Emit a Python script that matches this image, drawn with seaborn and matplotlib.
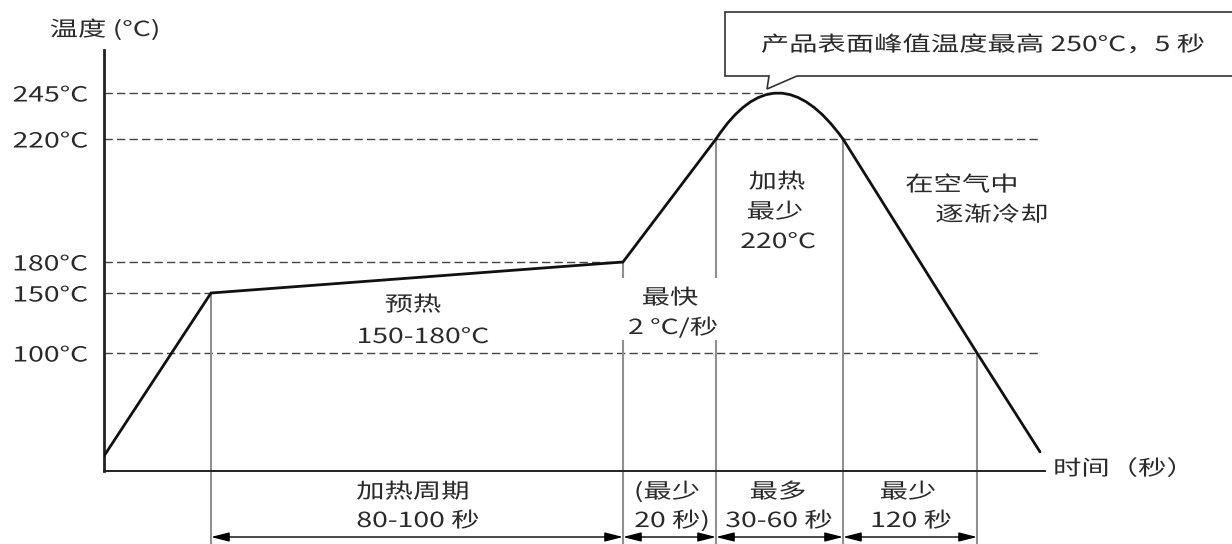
import numpy as np
import pandas as pd
import matplotlib
matplotlib.use("Agg")
import matplotlib.pyplot as plt
import seaborn as sns
from matplotlib import patheffects
from matplotlib.transforms import Affine2D
from matplotlib.path import Path
from matplotlib.patches import PathPatch, Polygon

# ---------------- data ----------------
TEMP_LEVELS = [245, 220, 180, 150, 100]
TEMP_LABELS = ["245°C", "220°C", "180°C", "150°C", "100°C"]

# reflow profile (time in s, temperature in °C)
RAMP_TIME = [0, 40, 130, 150]
RAMP_TEMP = [25, 150, 180, 220]
PEAK_TIME = 172
PEAK_TEMP = 245
COOL_TIME = [195, 315, 345]
COOL_TEMP = [220, 100, 28]

# phase boundaries (time, temperature where the guide line starts)
PHASE_TIME = [40, 130, 150, 195, 315]
PHASE_TEMP = [150, 180, 220, 220, 100]

BOTTOM_TOP = ["加热周期", "(最少", "最多", "最少"]
BOTTOM_BOT = ["80-100 秒", "20 秒)", "30-60 秒", "120 秒"]

# ---------------- schematic (non-linear) axis layout ----------------
W, H = 1232, 544
X_KNOT_T = [0, 40, 130, 150, 195, 315, 345]
X_KNOT_PX = [104, 211, 623, 716, 843, 977, 1040]
Y_KNOT_T = [0, 25, 100, 150, 180, 220, 245]
Y_KNOT_PX = [471, 456, 353, 293, 262, 139, 93]
AX_L, AX_R, AX_T, AX_B = 104, 1045, 50, 471
Y_H = [AX_B - p for p in Y_KNOT_PX]


def lin_interp(v, xs, ys):
    v = np.asarray(v, dtype=float)
    shp = v.shape
    v = np.atleast_1d(v)
    xs = np.asarray(xs, float)
    ys = np.asarray(ys, float)
    out = np.interp(v, xs, ys)
    lo = v < xs[0]
    hi = v > xs[-1]
    out[lo] = ys[0] + (v[lo] - xs[0]) * (ys[1] - ys[0]) / (xs[1] - xs[0])
    out[hi] = ys[-1] + (v[hi] - xs[-1]) * (ys[-1] - ys[-2]) / (xs[-1] - xs[-2])
    return out.reshape(shp)


fx = lambda t: lin_interp(t, X_KNOT_T, X_KNOT_PX)
fx_inv = lambda p: lin_interp(p, X_KNOT_PX, X_KNOT_T)
fy = lambda T: lin_interp(T, Y_KNOT_T, Y_H)
fy_inv = lambda h: lin_interp(h, Y_H, Y_KNOT_T)

# ---------------- style ----------------
sns.set_style("white")
plt.rcParams["font.family"] = ["Noto Sans CJK SC", "DejaVu Sans"]
plt.rcParams["axes.unicode_minus"] = False

FS = 15
SX = 1.36
TXT = "#2a2a2a"
CURVE = "#111111"
GUIDE = "#909090"
DASH = "#444444"


class HStretch(patheffects.AbstractPathEffect):
    """Widen glyphs horizontally around a fixed pixel x."""

    def __init__(self, sx, cx):
        super().__init__()
        self.sx = sx
        self.cx = cx

    def draw_path(self, renderer, gc, tpath, affine, rgbFace=None):
        st = Affine2D().translate(-self.cx, 0).scale(self.sx, 1).translate(self.cx, 0)
        renderer.draw_path(gc, tpath, affine + st, rgbFace)


fig = plt.figure(figsize=(W / 100, H / 100), dpi=100)
fig.patch.set_facecolor("white")
ax = fig.add_axes([AX_L / W, (H - AX_B) / H, (AX_R - AX_L) / W, (AX_B - AX_T) / H])
ax.set_facecolor("none")
ax.set_xscale("function", functions=(fx, fx_inv))
ax.set_yscale("function", functions=(fy, fy_inv))
ax.set_xlim(0, float(fx_inv(AX_R)))
ax.set_ylim(0, float(fy_inv(AX_B - AX_T)))

for s in ["top", "right"]:
    ax.spines[s].set_visible(False)
ax.spines["left"].set_linewidth(2.0)
ax.spines["left"].set_color("#222222")
ax.spines["bottom"].set_linewidth(1.4)
ax.spines["bottom"].set_color("#222222")

ax.set_xticks([])
ax.set_yticks(TEMP_LEVELS)
ax.set_yticklabels(TEMP_LABELS)
ax.tick_params(axis="y", length=0, pad=11.5, labelsize=FS, labelcolor=TXT)
for lbl in ax.get_yticklabels():
    lbl.set_fontweight("medium")
    lbl.set_path_effects([HStretch(SX, AX_L - 16)])

# dashed reference levels
end_t = COOL_TIME[-1]
dash_end = [PEAK_TIME, end_t, RAMP_TIME[2], RAMP_TIME[1], end_t]
ax.hlines(TEMP_LEVELS, 0, dash_end, colors=DASH, linestyles=(0, (6, 3)), lw=1.0, zorder=2)

# guide lines (with gap around the "最快" text)
bottom_T = float(fy_inv(AX_B - H))
gap_hi = float(fy_inv(AX_B - 278))
gap_lo = float(fy_inv(AX_B - 340))
for t, top in zip(PHASE_TIME, PHASE_TEMP):
    if t in (130, 150):
        ax.vlines(t, gap_hi, top, colors=GUIDE, lw=1.5, clip_on=False, zorder=2)
        ax.vlines(t, bottom_T, gap_lo, colors=GUIDE, lw=1.5, clip_on=False, zorder=2)
    else:
        ax.vlines(t, bottom_T, top, colors=GUIDE, lw=1.5, clip_on=False, zorder=2)

# profile curve
df = pd.DataFrame({
    "time": RAMP_TIME + COOL_TIME,
    "temp": RAMP_TEMP + COOL_TEMP,
    "seg": ["ramp"] * len(RAMP_TIME) + ["cool"] * len(COOL_TIME),
})
sns.lineplot(data=df, x="time", y="temp", units="seg", estimator=None, sort=False,
             color=CURVE, lw=2.0, ax=ax, zorder=4, legend=False)
for l in ax.lines:
    l.set_solid_capstyle("round")
    l.set_solid_joinstyle("miter")
ax.set_xlabel("")
ax.set_ylabel("")
t_a, t_b = RAMP_TIME[-1], COOL_TIME[0]
ctrl = (2 * PEAK_TIME - (t_a + t_b) / 2, 2 * PEAK_TEMP - RAMP_TEMP[-1])
dome = Path([(t_a, RAMP_TEMP[-1]), ctrl, (t_b, COOL_TEMP[0])],
            [Path.MOVETO, Path.CURVE3, Path.CURVE3])
ax.add_patch(PathPatch(dome, fill=False, ec=CURVE, lw=2.0, zorder=4, capstyle="round"))

# dimension arrows below the axis
for t0, t1 in zip(PHASE_TIME[:-1], PHASE_TIME[1:]):
    ax.annotate("", xy=(t1, H - 537), xytext=(t0, H - 537),
                xycoords=("data", "figure pixels"), textcoords=("data", "figure pixels"),
                arrowprops=dict(arrowstyle="<|-|>,head_length=1.1,head_width=0.28",
                                color="black", lw=1.0, shrinkA=0, shrinkB=0,
                                mutation_scale=10),
                annotation_clip=False)


def put(x, y, s, ha="center", size=FS):
    fig.text(x / W, 1 - y / H, s, ha=ha, va="center", fontsize=size, color=TXT,
             fontweight="medium", path_effects=[HStretch(SX, x)])


# callout bubble
bx = np.array([725, 1240, 1240, 797, 767, 769, 725], float)
by = np.array([12, 12, 76, 76, 89, 76, 76], float)
fig.add_artist(Polygon(np.column_stack([bx / W, 1 - by / H]), closed=True,
                       transform=fig.transFigure, fc="white", ec="#333333", lw=1.2))
put(983, 45, "产品表面峰值温度最高 250°C，5 秒")

put(105, 30, "温度 (°C)")
put(413, 305, "预热")
put(423, 337, "150-180°C")
put(670, 298, "最快")
put(673, 328, "2 °C/秒")
put(777, 182, "加热")
put(775, 212, "最少")
put(778, 242, "220°C")
put(962, 185, "在空气中")
put(992, 215, "逐渐冷却")
put(1124, 469, "时间（秒）")

top_x = [413, 667, 778, 908]
bot_x = [418, 672, 779, 911]
for x, s in zip(top_x, BOTTOM_TOP):
    put(x, 492, s)
for x, s in zip(bot_x, BOTTOM_BOT):
    put(x, 521, s)

fig.savefig("out.png", dpi=100, facecolor="white")
